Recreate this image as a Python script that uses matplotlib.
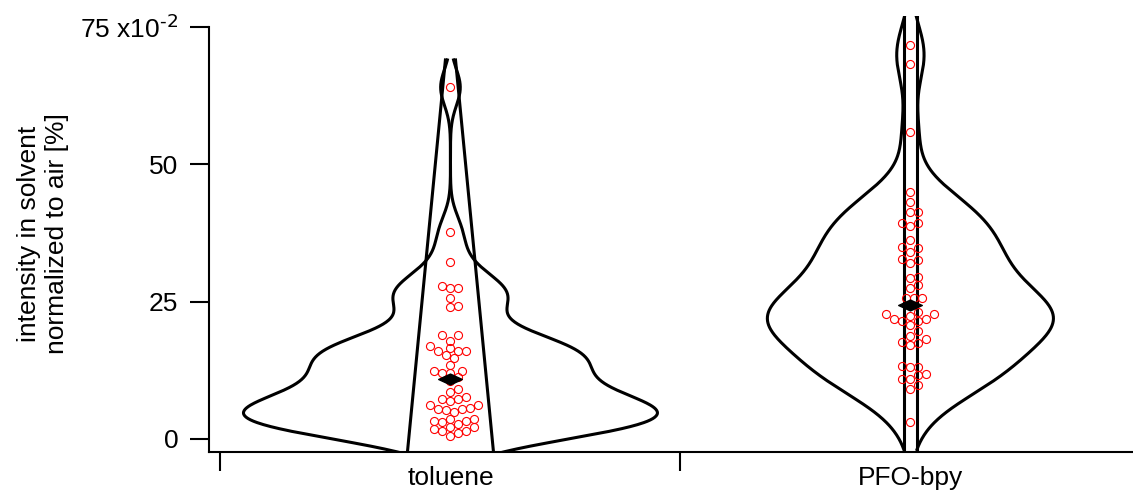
import numpy as np
import matplotlib
matplotlib.use('Agg')
import matplotlib.pyplot as plt
from matplotlib.path import Path

plt.rcParams['font.family'] = ['Liberation Sans', 'DejaVu Sans']
plt.rcParams['mathtext.default'] = 'regular'

# --- data ---
categories = ['toluene', 'PFO-bpy']

toluene = [64.0, 37.7, 32.2, 27.8, 27.5, 27.5, 25.7, 24.2, 24.0,
           18.9, 18.9, 17.9, 17.0, 16.5, 16.0, 16.0, 16.1, 15.3, 14.8, 13.5,
           12.1, 12.4, 12.4, 12.1, 11.2, 10.6, 9.1, 8.5,
           7.3, 6.9, 7.7, 7.3, 6.1, 6.1, 5.5, 5.6, 5.2, 4.9, 5.5,
           3.6, 3.3, 3.6, 3.3, 2.7, 3.1, 2.1, 2.1, 1.5, 1.1, 1.5, 1.8, 0.5]

pfo_bpy = [71.8, 68.3, 55.8, 44.9, 43.1, 41.4, 41.4, 38.8, 39.4, 39.4,
           36.2, 34.1, 34.8, 35.0, 32.1, 32.6, 32.7, 29.3, 29.4, 27.4, 28.0,
           25.6, 25.6, 25.6, 24.3, 23.2, 22.4, 21.8, 22.8, 22.8, 21.8, 21.5,
           21.5, 20.7, 19.6, 18.8, 18.2, 17.1, 17.7, 17.4, 13.1, 13.1, 13.2,
           11.8, 11.6, 10.9, 11.0, 9.8, 9.1, 3.1]

centre_marks = [10.9, 24.4]

y_ticks = [0, 25, 50, 75]
y_tick_labels = ['0', '25', '50', r'75 x10$^{\text{-2}}$']

# --- style ---
kde_bw = [3.3, 5.0]          # gaussian kernel width per set
kde_pad = 5.0                # curve runs this far past the data
outer_max_hw = [0.45, 0.311]  # widest half width (category units)
inner_hw = [(0.096, 0.011), (0.0137, 0.0137)]  # half width at low / high end
ylim = (-2.37, 77.0)
xlim = (-0.525, 1.484)
lw = 2.2
fs = 19

datasets = [np.array(toluene), np.array(pfo_bpy)]


def kde(vals, grid, bw):
    z = (grid[:, None] - vals[None, :]) / bw
    return np.exp(-0.5 * z ** 2).sum(axis=1) / (len(vals) * bw * np.sqrt(2 * np.pi))


grids = [np.linspace(v.min() - kde_pad, v.max() + kde_pad, 600) for v in datasets]
dens = [kde(v, g, b) for v, g, b in zip(datasets, grids, kde_bw)]

fig = plt.figure(figsize=(11.33, 4.93), dpi=100)
ax = fig.add_axes([209 / 1133, 41 / 493, 924 / 1133, 436 / 493])
ax.set_xlim(*xlim)
ax.set_ylim(*ylim)

# pixel scales for the swarm layout
bb = ax.get_position()
w_px = bb.width * fig.get_figwidth() * fig.dpi
h_px = bb.height * fig.get_figheight() * fig.dpi
ppu_x = w_px / (xlim[1] - xlim[0])
ppu_y = h_px / (ylim[1] - ylim[0])


def swarm(vals, diam=7.5, step=4.0):
    offs = np.zeros(len(vals))
    placed = []
    for i in np.argsort(vals):
        y = vals[i] * ppu_y
        k = 0
        found = None
        while found is None:
            cands = [0.0] if k == 0 else [k * step, -k * step]
            for c in cands:
                if all((c - px) ** 2 + (y - py) ** 2 >= diam ** 2 for py, px in placed):
                    found = c
                    break
            k += 1
        placed.append((y, found))
        offs[i] = found / ppu_x
    return offs


diamond = Path([(-1, 0), (0, 0.46), (1, 0), (0, -0.46), (-1, 0)],
               [Path.MOVETO, Path.LINETO, Path.LINETO, Path.LINETO, Path.CLOSEPOLY])

for pos, (vals, g, d, mhw, ihw, cm) in enumerate(
        zip(datasets, grids, dens, outer_max_hw, inner_hw, centre_marks)):
    hw = d / d.max() * mhw
    ax.plot(pos - hw, g, color='k', lw=lw)
    ax.plot(pos + hw, g, color='k', lw=lw)
    inner = np.interp(g, [g[0], g[-1]], ihw)
    ax.plot(pos - inner, g, color='k', lw=lw)
    ax.plot(pos + inner, g, color='k', lw=lw)
    ax.plot(pos + swarm(vals), vals, ls='none', marker='o', mfc='none',
            mec='red', ms=5.8, mew=0.8, zorder=3)
    ax.plot([pos], [cm], ls='none', marker=diamond, color='k', ms=17, zorder=4)

for s in ['top', 'right']:
    ax.spines[s].set_visible(False)
for s in ['left', 'bottom']:
    ax.spines[s].set_linewidth(1.5)
ax.spines['left'].set_bounds(ylim[0], 75)

ax.set_yticks(y_ticks)
ax.set_yticklabels(y_tick_labels, fontsize=fs)
ax.tick_params(axis='y', direction='out', length=14, width=1.5, pad=8)

ax.set_xticks([-0.5, 0.5])
ax.set_xticklabels(['', ''])
ax.set_xticks([0, 1], minor=True)
ax.set_xticklabels(categories, minor=True, fontsize=fs)
ax.tick_params(axis='x', which='major', direction='out', length=14, width=1.5)
ax.tick_params(axis='x', which='minor', length=0, pad=10)

ax.set_ylabel('intensity in solvent\nnormalized to air [%]', fontsize=fs, linespacing=1.25)
ax.yaxis.set_label_coords(-0.151, 0.5)

fig.savefig('out.png', dpi=100)
